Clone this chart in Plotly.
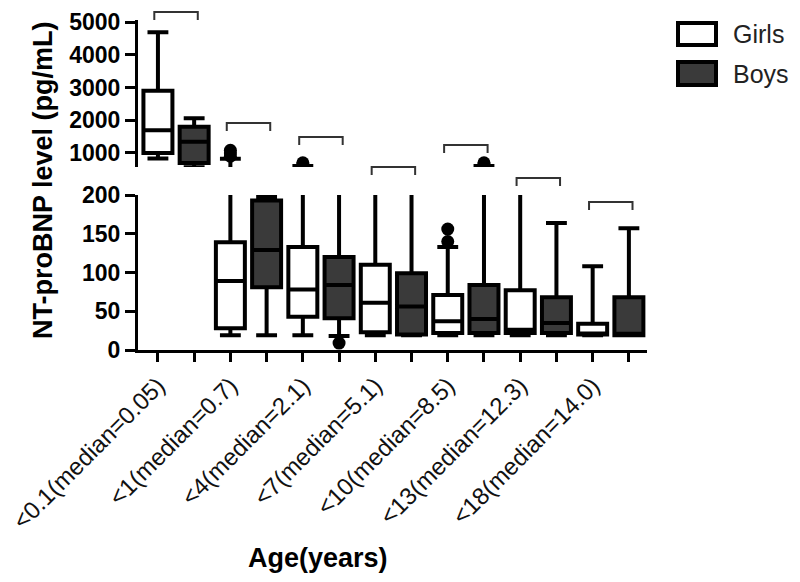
import plotly.graph_objects as go

# ---------------- data ----------------
groups = ["<0.1(median=0.05)", "<1(median=0.7)", "<4(median=2.1)", "<7(median=5.1)",
          "<10(median=8.5)", "<13(median=12.3)", "<18(median=14.0)"]

girls_lower = [830, 19, 19, 19, 19, 19, 19]
girls_q1 = [1000, 28, 43, 23, 22, 22, 20]
girls_median = [1690, 89, 78, 61, 37, 26, 21]
girls_q3 = [2900, 139, 133, 110, 71, 77, 34]
girls_upper = [4690, 820, 600, 400, 133, 400, 108]
girls_outliers = [[], [900, 1000, 1080], [650, 700], [], [140, 156], [], []]

boys_lower = [560, 19, 18, 19, 19, 19, 19]
boys_q1 = [690, 81, 41, 20, 22, 22, 19]
boys_median = [1340, 129, 84, 56, 40, 35, 21]
boys_q3 = [1800, 193, 120, 99, 84, 68, 68]
boys_upper = [2060, 198, 300, 300, 600, 164, 157]
boys_outliers = [[], [], [9], [], [650, 700], [], []]

low_ticks = [0, 50, 100, 150, 200]
high_ticks = [1000, 2000, 3000, 4000, 5000]

# ---------------- layout helpers ----------------
# the page body has an 8px margin, so the figure is drawn 8px in from the window corner
OFF = 8
W, H = 800 - 2 * OFF, 582 - 2 * OFF
L, T = 138 - OFF, 20 - OFF
R = W - (647 - OFF)
B = H - (350 - OFF)
PW, PH = W - L - R, H - T - B

def px(x):  # window pixel x -> paper
    return (x - OFF - L) / PW

def py(y):  # window pixel y -> paper
    return (H - B - (y - OFF)) / PH

# top (broken) panel: 571 at window y=167, 5000 at window y=22, panel top at y=20
top_lo = 571
scale = (167 - 22) / (5000 - top_lo)
top_hi = 5000 + (22 - 20) / scale

FONT = "Arial, Liberation Sans, sans-serif"
DARK = "#3a3a3a"

n = len(groups)
gx = [2 * i for i in range(n)]
bx = [2 * i + 1 for i in range(n)]

fig = go.Figure()

for yref in ["y", "y2"]:
    fig.add_trace(go.Box(
        x=gx, q1=girls_q1, median=girls_median, q3=girls_q3,
        lowerfence=girls_lower, upperfence=girls_upper,
        width=0.8, whiskerwidth=0.72, fillcolor="white",
        line=dict(color="black", width=4), boxpoints=False,
        name="Girls", yaxis=yref, xaxis="x", showlegend=False))
    fig.add_trace(go.Box(
        x=bx, q1=boys_q1, median=boys_median, q3=boys_q3,
        lowerfence=boys_lower, upperfence=boys_upper,
        width=0.8, whiskerwidth=0.72, fillcolor=DARK,
        line=dict(color="black", width=4), boxpoints=False,
        name="Boys", yaxis=yref, xaxis="x", showlegend=False))
    ox, oy = [], []
    for i in range(n):
        for v in girls_outliers[i]:
            ox.append(gx[i]); oy.append(v)
        for v in boys_outliers[i]:
            ox.append(bx[i]); oy.append(v)
    fig.add_trace(go.Scatter(
        x=ox, y=oy, mode="markers", yaxis=yref, xaxis="x",
        marker=dict(color="black", size=13, symbol="circle"),
        showlegend=False, cliponaxis=True))

ticktext = []
for i in range(n):
    ticktext += [groups[i], ""]

axis_common = dict(showline=True, linewidth=3, linecolor="black", showgrid=False,
                   zeroline=False, ticks="outside", tickwidth=3, tickcolor="black",
                   automargin=False, ticklabeloverflow="allow")

fig.update_layout(
    width=W, height=H,
    margin=dict(l=L, r=R, t=T, b=B, autoexpand=False),
    plot_bgcolor="white", paper_bgcolor="white",
    showlegend=False, boxmode="overlay",
    font=dict(family=FONT, color="black"),
    xaxis=dict(range=[-0.55, 13.5], tickvals=list(range(2 * n)), ticktext=ticktext,
               tickangle=-45, ticklen=9, anchor="y",
               tickfont=dict(size=24, family=FONT, color="#111"), **axis_common),
    yaxis=dict(domain=[0, py(195)], range=[0, 200], tickvals=low_ticks,
               ticklen=10, anchor="x",
               tickfont=dict(size=23, family=FONT, color="black"),
               **axis_common),
    yaxis2=dict(domain=[py(167), 1], range=[top_lo, top_hi], tickvals=high_ticks,
                ticklen=10, anchor="x",
                tickfont=dict(size=23, family=FONT, color="black"),
                **axis_common),
)
fig.update_yaxes(tickfont_weight="bold")

# axis titles
fig.add_annotation(text="<b>NT-proBNP level (pg/mL)</b>", xref="paper", yref="paper",
                   x=px(43), y=py(180), textangle=-90, showarrow=False,
                   xanchor="center", yanchor="middle",
                   font=dict(size=27, family=FONT, color="black"))
fig.add_annotation(text="<b>Age(years)</b>", xref="paper", yref="paper",
                   x=px(318), y=py(558), showarrow=False,
                   xanchor="center", yanchor="middle",
                   font=dict(size=27, family=FONT, color="black"))

# custom legend
for (top, bot, fill, label) in [(23, 45, "white", "Girls"), (62, 85, DARK, "Boys")]:
    fig.add_shape(type="rect", xref="paper", yref="paper",
                  x0=px(678), x1=px(716), y0=py(bot), y1=py(top),
                  fillcolor=fill, line=dict(color="black", width=4))
    fig.add_annotation(text=label, xref="paper", yref="paper",
                       x=px(731), y=py((top + bot) / 2), showarrow=False,
                       xanchor="left", yanchor="middle",
                       font=dict(size=25, family=FONT, color="#222"))

# comparison brackets above each age group
bracket_top = [12, 123, 137, 167, 145, 178, 202]
for i in range(n):
    x0, x1 = gx[i] - 0.1, bx[i] + 0.1
    y0, y1 = py(bracket_top[i]), py(bracket_top[i] + 8)
    fig.add_shape(type="path", xref="x", yref="paper",
                  path=f"M {x0},{y1} L {x0},{y0} L {x1},{y0} L {x1},{y1}",
                  line=dict(color="#333", width=2))

fig.write_html("out.html")
